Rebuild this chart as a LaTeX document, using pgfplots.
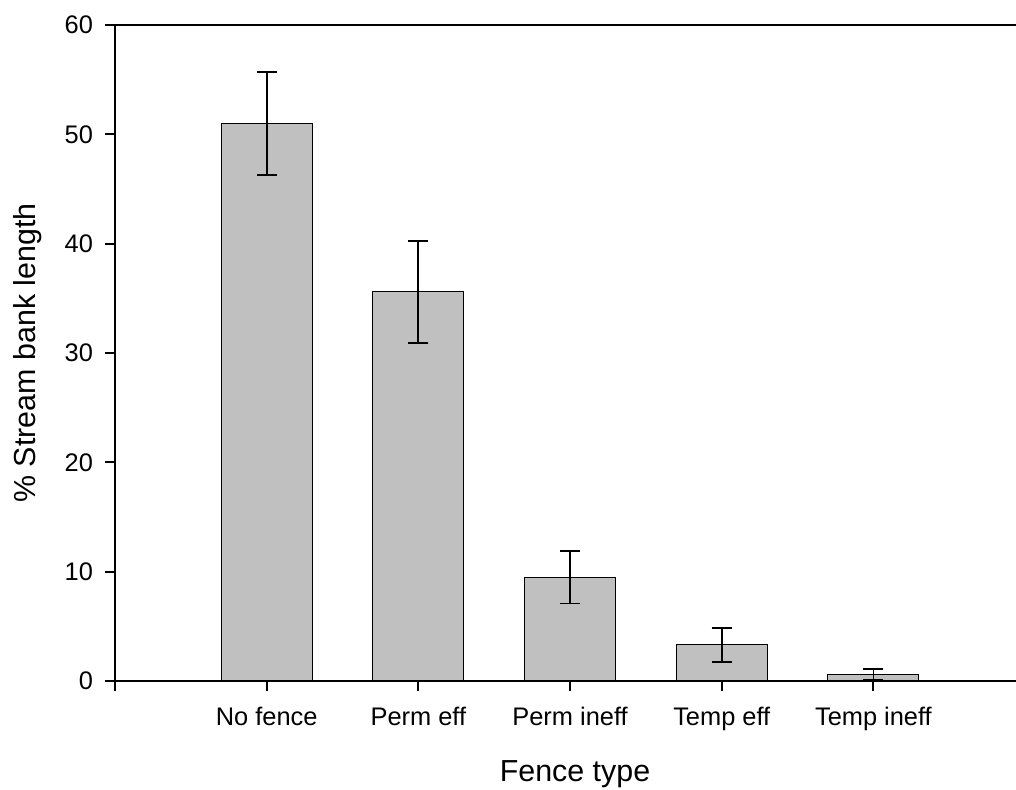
\documentclass[border=0pt]{standalone}
\usepackage{fontspec}
\setmainfont{Liberation Sans}
\usepackage{pgfplots}
\pgfplotsset{compat=1.18}
\definecolor{barfill}{HTML}{C0C0C0}

\begin{document}
\begin{tikzpicture}
\begin{axis}[
  scale only axis,
  width=450.5pt, height=328pt,
  xmin=0, xmax=5.94,
  ymin=0, ymax=60,
  axis x line=box, axis y line=left,
  axis line style={-, line width=1pt, black},
  every tick/.style={line width=1pt, black},
  tick align=outside,
  major tick length=5pt,
  xtick pos=bottom, ytick pos=left,
  xtick={0,1,2,3,4,5},
  xticklabels={,No fence,Perm eff,Perm ineff,Temp eff,Temp ineff},
  ytick={0,10,20,30,40,50,60},
  /pgf/number format/assume math mode=true,
  tick label style={font=\fontsize{12.7}{15}\selectfont},
  xticklabel style={anchor=base, yshift=-17.5pt},
  yticklabel style={xshift=-2.5pt},
  ylabel={\% Stream bank length},
  xlabel={Fence type},
  label style={font=\fontsize{15.2}{18}\selectfont},
  ylabel style={at={(axis description cs:0,0.5)}, anchor=center, yshift=43.5pt},
  xlabel style={at={(axis description cs:0,0)}, anchor=base, xshift=230pt, yshift=-50.3pt},
  ybar, bar width=0.6,
]
\coordinate (O) at (rel axis cs:0,0);
% mean percentage of stream bank length with standard error
\addplot[
  fill=barfill, draw=black, line width=0.5pt,
  error bars/.cd, y dir=both, y explicit,
  error bar style={line width=0.9pt, black},
  error mark options={rotate=90, line width=0.9pt, mark size=5pt, black},
] coordinates {
  (1,51.0) +- (0,4.7)
  (2,35.6) +- (0,4.65)
  (3,9.5)  +- (0,2.42)
  (4,3.3)  +- (0,1.55)
  (5,0.6)  +- (0,0.5)
};
\end{axis}
\pgfresetboundingbox
\path[use as bounding box] (O) ++(-57.5pt,-54.5pt) rectangle ++(508pt,395pt);
\end{tikzpicture}
\end{document}
